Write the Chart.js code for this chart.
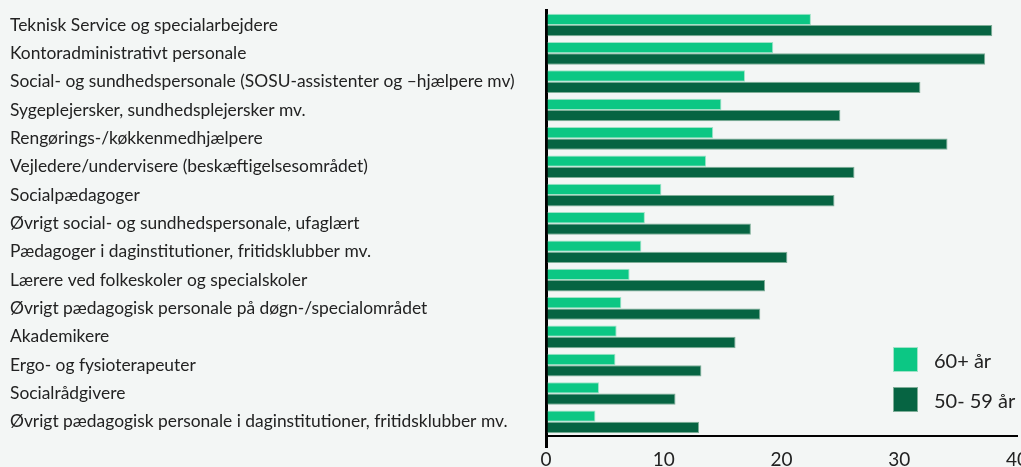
<!DOCTYPE html>
<html>
<head>
<meta charset="utf-8">
<script src="https://cdn.jsdelivr.net/npm/chart.js@4"></script>
<style>
  html, body { margin: 0; padding: 0; background: #f3f6f5; overflow: hidden; }
  #wrap { position: relative; width: 1028px; height: 467px; }
  #legend { position: absolute; left: 893px; top: 347px; font-family: Lato, sans-serif; font-size: 20px; color: #222; }
  .item { display: flex; align-items: center; height: 25px; margin-bottom: 15px; }
  .box { width: 25px; height: 25px; margin-right: 16px; box-sizing: border-box; }
</style>
</head>
<body>
<div id="wrap">
  <canvas id="chart" width="1028" height="467"></canvas>
  <div id="legend"></div>
</div>
<script>
const categories = [
  "Teknisk Service og specialarbejdere",
  "Kontoradministrativt personale",
  "Social- og sundhedspersonale (SOSU-assistenter og –hjælpere mv)",
  "Sygeplejersker, sundhedsplejersker mv.",
  "Rengørings-/køkkenmedhjælpere",
  "Vejledere/undervisere (beskæftigelsesområdet)",
  "Socialpædagoger",
  "Øvrigt social- og sundhedspersonale, ufaglært",
  "Pædagoger i daginstitutioner, fritidsklubber mv.",
  "Lærere ved folkeskoler og specialskoler",
  "Øvrigt pædagogisk personale på døgn-/specialområdet",
  "Akademikere",
  "Ergo- og fysioterapeuter",
  "Socialrådgivere",
  "Øvrigt pædagogisk personale i daginstitutioner, fritidsklubber mv."
];
const over60 = [22.5, 19.3, 16.9, 14.9, 14.2, 13.6, 9.8, 8.4, 8.1, 7.1, 6.4, 6.0, 5.9, 4.5, 4.2];
const age50to59 = [37.9, 37.3, 31.8, 25.0, 34.1, 26.2, 24.5, 17.4, 20.5, 18.6, 18.2, 16.1, 13.2, 11.0, 13.0];
const seriesLabels = ["60+ år", "50- 59 år"];
const xTicks = [0, 10, 20, 30, 40];

const lightGreen = "#0cc784";
const darkGreen = "#066442";

const chart = new Chart(document.getElementById("chart"), {
  type: "bar",
  data: {
    labels: categories,
    datasets: [
      { label: seriesLabels[0], data: over60, backgroundColor: lightGreen, borderColor: "#9fe3c7", borderWidth: 1 },
      { label: seriesLabels[1], data: age50to59, backgroundColor: darkGreen, borderColor: "#7fae98", borderWidth: 1 }
    ]
  },
  options: {
    indexAxis: "y",
    responsive: false,
    animation: false,
    layout: { padding: { left: 10, top: 0, right: 0, bottom: 0 } },
    datasets: { bar: { categoryPercentage: 0.8, barPercentage: 1.0 } },
    plugins: { legend: { display: false }, tooltip: { enabled: false } },
    scales: {
      x: {
        min: 0, max: 40,
        afterBuildTicks: (s) => { s.ticks = xTicks.map(v => ({ value: v })); },
        afterFit: (s) => { s.height = 31; },
        grid: {
          display: true,
          drawOnChartArea: false,
          tickLength: 12,
          lineWidth: 3,
          color: (c) => (c.tick && c.tick.value === 0 ? "#000" : "rgba(0,0,0,0)")
        },
        border: { color: "#000", width: 2 },
        ticks: { color: "#222", font: { family: "Lato", size: 19 }, padding: 0 }
      },
      y: {
        grid: { display: false },
        border: { color: "#000", width: 3 },
        afterFit: (s) => { s.width = 536; },
        ticks: { crossAlign: "far", color: "#222", font: { family: "Lato", size: 17.4, lineHeight: 0.9 }, autoSkip: false }
      }
    }
  }
});

const legendEl = document.getElementById("legend");
chart.data.datasets.forEach(ds => {
  const item = document.createElement("div");
  item.className = "item";
  const box = document.createElement("span");
  box.className = "box";
  box.style.background = ds.backgroundColor;
  box.style.border = "1px solid " + ds.borderColor;
  const txt = document.createElement("span");
  txt.textContent = ds.label;
  item.appendChild(box);
  item.appendChild(txt);
  legendEl.appendChild(item);
});
</script>
</body>
</html>
